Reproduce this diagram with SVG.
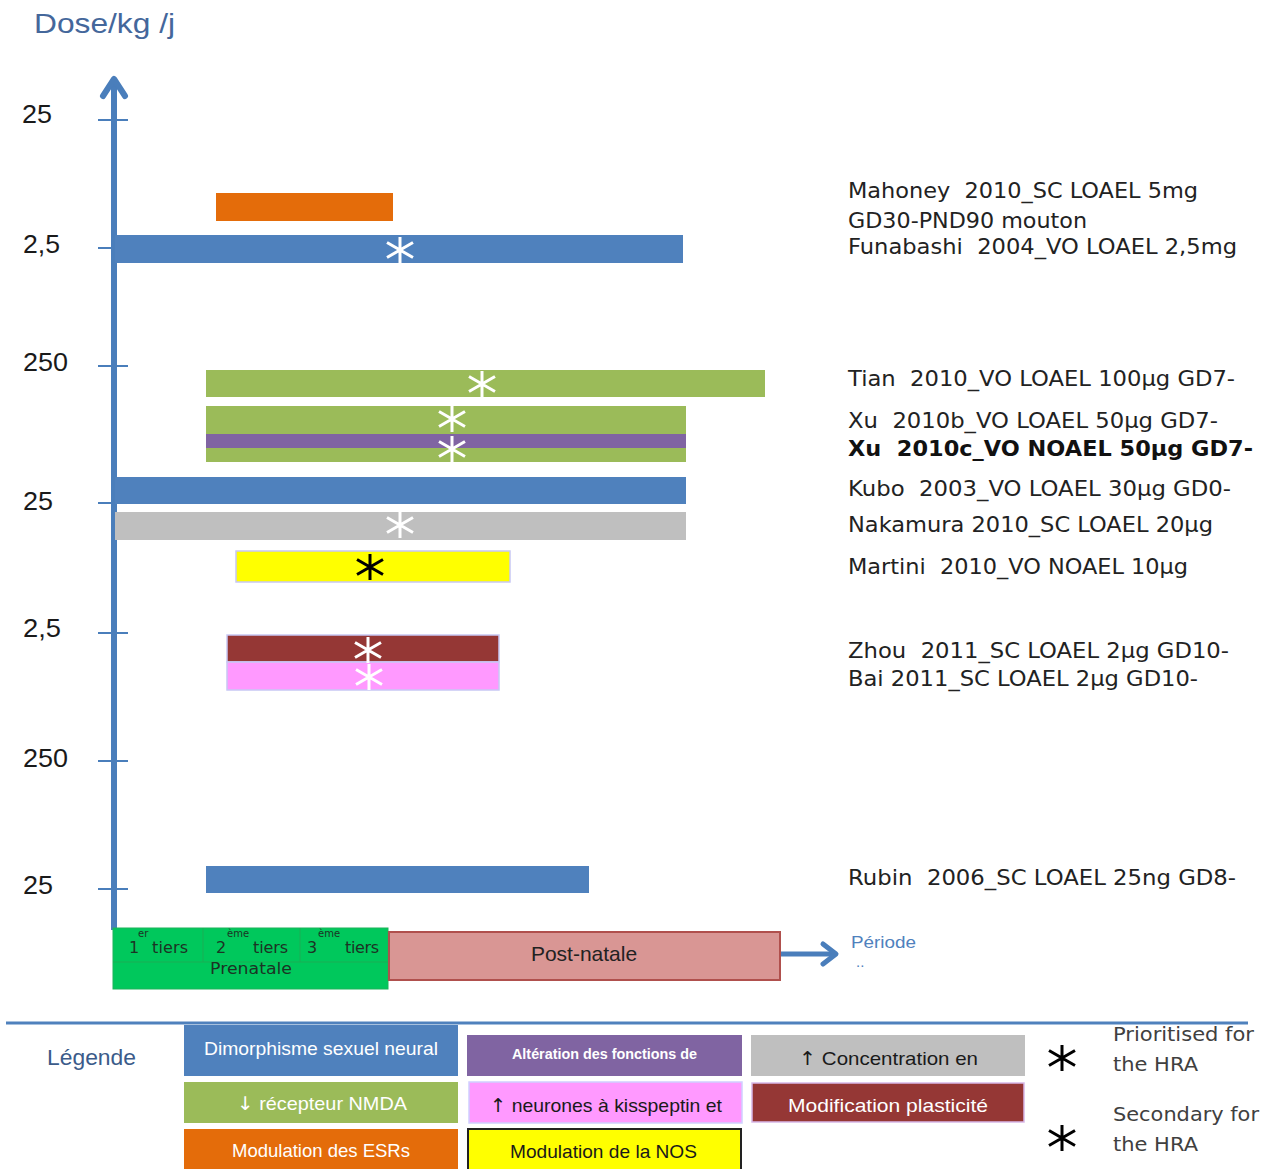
<svg xmlns="http://www.w3.org/2000/svg" xmlns:xlink="http://www.w3.org/1999/xlink" width="1268" height="1169" viewBox="0 0 1268 1169">
<style>
text{white-space:pre}
.cal{font-family:"Liberation Sans",Arial,sans-serif}
.ver{font-family:"DejaVu Sans",Verdana,sans-serif}
.arr{font-family:"DejaVu Sans",sans-serif;font-weight:normal}
.ax{font-size:26px;fill:#1a1a1a}
.ref{font-size:21px;fill:#222}
.aw{stroke:#fff;stroke-width:3;fill:none}
.ab{stroke:#000;stroke-width:3;fill:none}
.tick{stroke:#4a7ebb;stroke-width:2}
.lg{font-size:19px;fill:#fff}
.lgd{font-size:19px;fill:#1a1a1a}
.blue{fill:#4f81bd}
.green{fill:#9bbb59}
.purple{fill:#8064a2}
.grey{fill:#bfbfbf}
.yellow{fill:#ffff00}
.brown{fill:#953735}
.pink{fill:#ff99ff}
.orange{fill:#e46c0a}
.tier{font-size:16px;fill:#1c3324}
.sup{font-size:10px;fill:#1c3324}
</style>
<defs>
<path id="ast" d="M0,-13V13M-13,-7.5L13,7.5M-13,7.5L13,-7.5"/>
</defs>
<rect width="1268" height="1169" fill="#fff"/>

<text class="cal" x="34" y="33" font-size="28" fill="#44679b" textLength="141" lengthAdjust="spacingAndGlyphs">Dose/kg /j</text>

<g id="axis-labels" class="cal ax">
<text x="22" y="123" textLength="30" lengthAdjust="spacingAndGlyphs">25</text>
<text x="23" y="253" textLength="37" lengthAdjust="spacingAndGlyphs">2,5</text>
<text x="23" y="371" textLength="45" lengthAdjust="spacingAndGlyphs">250</text>
<text x="23" y="510" textLength="30" lengthAdjust="spacingAndGlyphs">25</text>
<text x="23" y="637" textLength="38" lengthAdjust="spacingAndGlyphs">2,5</text>
<text x="23" y="767" textLength="45" lengthAdjust="spacingAndGlyphs">250</text>
<text x="23" y="894" textLength="30" lengthAdjust="spacingAndGlyphs">25</text>
</g>

<g id="ticks">
<line class="tick" x1="98" y1="120" x2="128" y2="120"/>
<line class="tick" x1="98" y1="248" x2="128" y2="248"/>
<line class="tick" x1="98" y1="366" x2="128" y2="366"/>
<line class="tick" x1="98" y1="503" x2="128" y2="503"/>
<line class="tick" x1="98" y1="633" x2="128" y2="633"/>
<line class="tick" x1="98" y1="761" x2="128" y2="761"/>
<line class="tick" x1="98" y1="889" x2="128" y2="889"/>
</g>

<g id="connectors">
<line x1="114" y1="930" x2="114" y2="80" stroke="#4a7ebb" stroke-width="6"/>
<polyline points="103,96 114,79 125,96" fill="none" stroke="#4a7ebb" stroke-width="6" stroke-linecap="round" stroke-linejoin="round"/>
<line x1="780" y1="954" x2="834" y2="954" stroke="#4a7ebb" stroke-width="5"/>
<polyline points="823,944 836,954 823,964" fill="none" stroke="#4a7ebb" stroke-width="5" stroke-linecap="round" stroke-linejoin="round"/>
</g>

<g id="bar-mahoney"><rect class="orange" x="216" y="193" width="177" height="28"/></g>
<g id="bar-funabashi"><rect class="blue" x="115" y="235" width="568" height="28"/><use xlink:href="#ast" href="#ast" class="aw" x="400" y="250"/></g>
<g id="bar-tian"><rect class="green" x="206" y="370" width="559" height="27"/><use xlink:href="#ast" href="#ast" class="aw" x="482" y="384"/></g>
<g id="bar-xu"><rect class="green" x="206" y="406" width="480" height="28"/><rect class="purple" x="206" y="434" width="480" height="14"/><rect class="green" x="206" y="448" width="480" height="14"/><use xlink:href="#ast" href="#ast" class="aw" x="452" y="419"/><use xlink:href="#ast" href="#ast" class="aw" x="452" y="449"/></g>
<g id="bar-kubo"><rect class="blue" x="115" y="477" width="571" height="27"/></g>
<g id="bar-nakamura"><rect class="grey" x="115" y="512" width="571" height="28"/><use xlink:href="#ast" href="#ast" class="aw" x="400" y="525"/></g>
<g id="bar-martini"><rect class="yellow" x="236" y="551" width="274" height="31" stroke="#c8c8f4" stroke-width="1.5"/><use xlink:href="#ast" href="#ast" class="ab" x="370" y="567"/></g>
<g id="bar-zhou-bai"><rect class="brown" x="227" y="635" width="272" height="27" stroke="#c8c8f4" stroke-width="1.5"/><rect class="pink" x="227" y="662" width="272" height="28" stroke="#c8c8f4" stroke-width="1.5"/><use xlink:href="#ast" href="#ast" class="aw" x="368" y="650"/><use xlink:href="#ast" href="#ast" class="aw" x="369" y="677"/></g>
<g id="bar-rubin"><rect class="blue" x="206" y="866" width="383" height="27"/></g>

<g id="references" class="ver ref">
<text x="848" y="198" textLength="350" lengthAdjust="spacingAndGlyphs">Mahoney  2010_SC LOAEL 5mg</text>
<text x="848" y="228" textLength="239" lengthAdjust="spacingAndGlyphs">GD30-PND90 mouton</text>
<text x="848" y="254" textLength="389" lengthAdjust="spacingAndGlyphs">Funabashi  2004_VO LOAEL 2,5mg</text>
<text x="848" y="386" textLength="387" lengthAdjust="spacingAndGlyphs">Tian  2010_VO LOAEL 100µg GD7-</text>
<text x="848" y="428" textLength="370" lengthAdjust="spacingAndGlyphs">Xu  2010b_VO LOAEL 50µg GD7-</text>
<text x="848" y="456" textLength="405" lengthAdjust="spacingAndGlyphs" font-weight="bold" fill="#111">Xu  2010c_VO NOAEL 50µg GD7-</text>
<text x="848" y="496" textLength="383" lengthAdjust="spacingAndGlyphs">Kubo  2003_VO LOAEL 30µg GD0-</text>
<text x="848" y="532" textLength="365" lengthAdjust="spacingAndGlyphs">Nakamura 2010_SC LOAEL 20µg</text>
<text x="848" y="574" textLength="340" lengthAdjust="spacingAndGlyphs">Martini  2010_VO NOAEL 10µg</text>
<text x="848" y="658" textLength="381" lengthAdjust="spacingAndGlyphs">Zhou  2011_SC LOAEL 2µg GD10-</text>
<text x="848" y="686" textLength="350" lengthAdjust="spacingAndGlyphs">Bai 2011_SC LOAEL 2µg GD10-</text>
<text x="848" y="885" textLength="388" lengthAdjust="spacingAndGlyphs">Rubin  2006_SC LOAEL 25ng GD8-</text>
</g>

<g id="period-prenatal">
<rect x="113" y="928" width="275" height="61" fill="#00c85c" stroke="#1db35a" stroke-width="1"/>
<line x1="113" y1="962" x2="388" y2="962" stroke="#1aae55" stroke-width="1"/>
<line x1="203" y1="928" x2="203" y2="962" stroke="#1aae55" stroke-width="1"/>
<line x1="300" y1="928" x2="300" y2="962" stroke="#1aae55" stroke-width="1"/>
<g class="ver">
<text class="tier" x="129" y="953">1</text><text class="sup" x="138" y="937">er</text><text class="tier" x="152" y="953" textLength="36">tiers</text>
<text class="tier" x="216" y="953">2</text><text class="sup" x="227" y="937">ème</text><text class="tier" x="253" y="953" textLength="35">tiers</text>
<text class="tier" x="307" y="953">3</text><text class="sup" x="318" y="937">ème</text><text class="tier" x="345" y="953" textLength="34">tiers</text>
<text class="tier" x="210" y="974" font-size="17" textLength="82" lengthAdjust="spacingAndGlyphs">Prenatale</text>
</g>
</g>

<g id="period-postnatal">
<rect x="389" y="932" width="391" height="48" fill="#d99694" stroke="#b0504d" stroke-width="2"/>
<text class="cal" x="584" y="961" font-size="21" fill="#222" text-anchor="middle">Post-natale</text>
</g>

<g id="period-label" class="cal">
<text x="851" y="948" font-size="17" fill="#4f81bd" textLength="65" lengthAdjust="spacingAndGlyphs">Période</text>
<text x="856" y="967" font-size="15" fill="#4f81bd">..</text>
</g>

<line x1="6" y1="1023" x2="1248" y2="1023" stroke="#4f81bd" stroke-width="3"/>
<text class="cal" x="47" y="1065" font-size="22" fill="#3b5b8a" textLength="89" lengthAdjust="spacingAndGlyphs">Légende</text>

<g id="legend-dimorphisme"><rect class="blue" x="184" y="1025" width="274" height="51"/><text class="cal lg" x="204" y="1055" textLength="234" lengthAdjust="spacingAndGlyphs">Dimorphisme sexuel neural</text></g>
<g id="legend-nmda"><rect class="green" x="184" y="1082" width="274" height="41"/><text class="cal lg" x="237" y="1110" textLength="170" lengthAdjust="spacingAndGlyphs"><tspan class="arr">↓</tspan> récepteur NMDA</text></g>
<g id="legend-esr"><rect class="orange" x="184" y="1129" width="274" height="42"/><text class="cal lg" x="232" y="1157" textLength="178" lengthAdjust="spacingAndGlyphs">Modulation des ESRs</text></g>
<g id="legend-alteration"><rect class="purple" x="467" y="1035" width="275" height="41"/><text class="cal" x="512" y="1059" font-size="15" font-weight="bold" fill="#fff" textLength="185" lengthAdjust="spacingAndGlyphs">Altération des fonctions de</text></g>
<g id="legend-kisspeptin"><rect class="pink" x="469" y="1082" width="273" height="41" stroke="#d0d0ff" stroke-width="1.5"/><text class="cal lgd" x="490" y="1112" textLength="232" lengthAdjust="spacingAndGlyphs"><tspan class="arr">↑</tspan> neurones à kisspeptin et</text></g>
<g id="legend-nos"><rect class="yellow" x="468" y="1129" width="273" height="42" stroke="#222" stroke-width="2"/><text class="cal lgd" x="510" y="1158" textLength="187" lengthAdjust="spacingAndGlyphs">Modulation de la NOS</text></g>
<g id="legend-concentration"><rect class="grey" x="751" y="1035" width="274" height="41"/><text class="cal lgd" x="799" y="1065" textLength="179" lengthAdjust="spacingAndGlyphs"><tspan class="arr">↑</tspan> Concentration en</text></g>
<g id="legend-plasticite"><rect class="brown" x="752" y="1083" width="272" height="39" stroke="#d8b8e8" stroke-width="1.5"/><text class="cal lg" x="788" y="1112" textLength="200" lengthAdjust="spacingAndGlyphs">Modification plasticité</text></g>

<g id="legend-prioritised">
<use xlink:href="#ast" href="#ast" class="ab" x="1062" y="1058"/>
<text class="ver" x="1113" y="1041" font-size="19" fill="#404040" textLength="141" lengthAdjust="spacingAndGlyphs">Prioritised for</text>
<text class="ver" x="1113" y="1071" font-size="19" fill="#404040" textLength="85" lengthAdjust="spacingAndGlyphs">the HRA</text>
</g>
<g id="legend-secondary">
<use xlink:href="#ast" href="#ast" class="ab" x="1062" y="1138"/>
<text class="ver" x="1113" y="1121" font-size="19" fill="#404040" textLength="146" lengthAdjust="spacingAndGlyphs">Secondary for</text>
<text class="ver" x="1113" y="1151" font-size="19" fill="#404040" textLength="85" lengthAdjust="spacingAndGlyphs">the HRA</text>
</g>
</svg>
